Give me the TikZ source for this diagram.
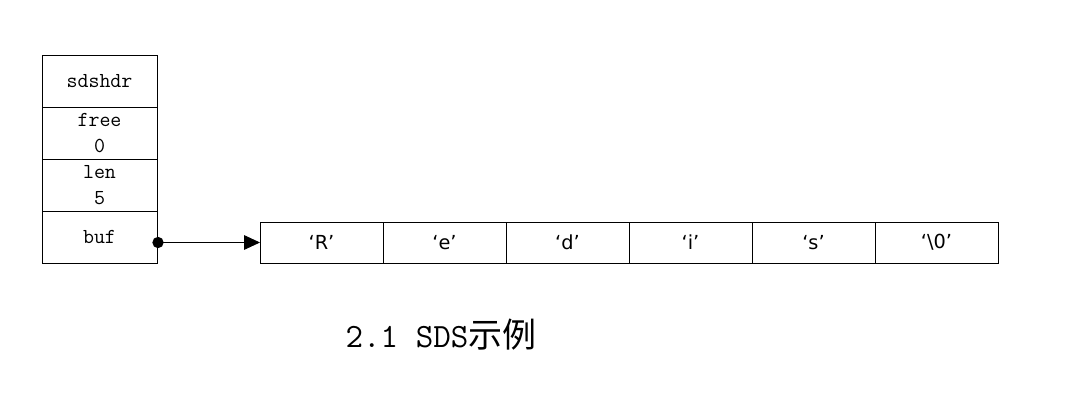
\documentclass[tikz,border=0pt]{standalone}
\usepackage{fontspec}
\newfontfamily\cellfont{DejaVu Sans}
\newfontfamily\cjk{Noto Sans CJK SC}
\usetikzlibrary{positioning, arrows.meta}

\begin{document}
\begin{tikzpicture}[x=0.75pt, y=-0.75pt, line width=0.7pt,
    hdrcell/.style={draw, minimum width=86.25pt, minimum height=39pt, inner sep=0pt, outer sep=0pt,
      align=center, font=\fontsize{16}{20}\ttfamily},
    bytecell/.style={draw, minimum width=92.25pt, minimum height=30.75pt, inner sep=0pt, outer sep=0pt,
      font=\fontsize{14.5}{16}\cellfont}]
  \useasboundingbox (0,0) rectangle (1080,403);

  % sdshdr struct
  \node[hdrcell] (sdshdr) at (99.5,81) {sdshdr};
  \node[hdrcell, below=0pt of sdshdr] (free) {free\\0};
  \node[hdrcell, below=0pt of free] (len) {len\\5};
  \node[hdrcell, below=0pt of len] (buf) {buf};

  % buf array
  \node[bytecell] (c1) at (321.5,242.5) {‘R’};
  \node[bytecell, right=0pt of c1] (c2) {‘e’};
  \node[bytecell, right=0pt of c2] (c3) {‘d’};
  \node[bytecell, right=0pt of c3] (c4) {‘i’};
  \node[bytecell, right=0pt of c4] (c5) {‘s’};
  \node[bytecell, right=0pt of c5] (c6) {‘\textbackslash 0’};

  % pointer
  \node[circle, fill, inner sep=0pt, minimum size=8.5pt] (bufdot) at (158,242.5) {};
  \draw[-{Triangle[length=12pt, width=11pt]}] (bufdot.center) -- (c1.west);

  \node[font=\fontsize{25.5}{28}\selectfont] (caption) at (441,335) {\ttfamily 2.1 SDS\cjk 示例};
\end{tikzpicture}
\end{document}
